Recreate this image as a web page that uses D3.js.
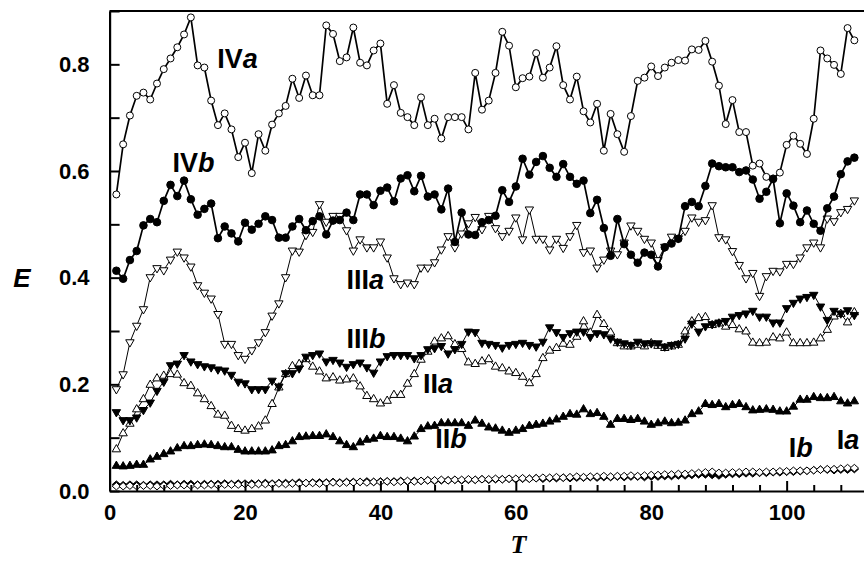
<!DOCTYPE html>
<html><head><meta charset="utf-8">
<script src="https://cdn.jsdelivr.net/npm/d3@7"></script>
<style>body{margin:0;background:#fff}</style>
</head><body>
<svg id="c" width="864" height="562" xmlns="http://www.w3.org/2000/svg"></svg>
<script>
// ---- data ----
const T = d3.range(1, 111);
const IVa = [0.556,0.650,0.704,0.741,0.747,0.734,0.764,0.791,0.811,0.832,
0.856,0.888,0.798,0.794,0.732,0.686,0.708,0.678,0.626,0.653,
0.596,0.669,0.638,0.687,0.708,0.722,0.773,0.737,0.779,0.742,
0.742,0.873,0.857,0.806,0.813,0.869,0.803,0.798,0.826,0.839,
0.726,0.761,0.709,0.701,0.686,0.738,0.686,0.698,0.661,0.701,
0.701,0.701,0.678,0.784,0.715,0.732,0.784,0.861,0.835,0.757,
0.774,0.777,0.821,0.775,0.794,0.834,0.761,0.734,0.777,0.712,
0.691,0.726,0.638,0.707,0.669,0.636,0.703,0.769,0.775,0.796,
0.778,0.794,0.803,0.808,0.807,0.828,0.827,0.844,0.805,0.760,
0.688,0.733,0.673,0.673,0.610,0.614,0.589,0.586,0.597,0.649,
0.666,0.651,0.632,0.698,0.826,0.811,0.799,0.782,0.868,0.845];
const IVb = [0.413,0.398,0.433,0.450,0.498,0.510,0.504,0.544,0.574,0.553,
0.582,0.547,0.518,0.529,0.539,0.474,0.496,0.483,0.468,0.503,
0.490,0.501,0.515,0.508,0.475,0.475,0.496,0.510,0.489,0.506,
0.515,0.481,0.507,0.508,0.522,0.508,0.556,0.556,0.536,0.563,
0.569,0.543,0.586,0.592,0.562,0.591,0.552,0.556,0.528,0.567,
0.467,0.522,0.481,0.480,0.504,0.508,0.516,0.564,0.542,0.571,
0.623,0.593,0.617,0.628,0.606,0.589,0.613,0.589,0.576,0.582,
0.521,0.546,0.493,0.441,0.510,0.463,0.443,0.428,0.447,0.443,
0.421,0.457,0.464,0.473,0.534,0.542,0.534,0.572,0.614,0.609,
0.607,0.607,0.598,0.601,0.584,0.548,0.561,0.585,0.502,0.558,
0.535,0.504,0.526,0.501,0.488,0.530,0.552,0.594,0.618,0.625];
const IIIa = [0.191,0.219,0.279,0.310,0.341,0.401,0.418,0.414,0.434,0.449,
0.438,0.421,0.386,0.372,0.361,0.332,0.276,0.276,0.255,0.248,
0.264,0.279,0.298,0.329,0.352,0.401,0.451,0.449,0.480,0.486,
0.538,0.505,0.516,0.516,0.489,0.451,0.472,0.457,0.457,0.468,
0.438,0.399,0.388,0.391,0.388,0.419,0.419,0.429,0.453,0.478,
0.457,0.483,0.502,0.514,0.491,0.516,0.493,0.478,0.488,0.513,
0.472,0.528,0.473,0.473,0.453,0.473,0.456,0.478,0.499,0.448,
0.451,0.419,0.434,0.451,0.444,0.466,0.498,0.488,0.473,0.466,
0.433,0.458,0.477,0.474,0.488,0.513,0.505,0.508,0.536,0.476,
0.472,0.450,0.424,0.399,0.409,0.366,0.403,0.413,0.412,0.426,
0.426,0.438,0.457,0.466,0.457,0.511,0.506,0.523,0.529,0.545];
const IIIb = [0.148,0.133,0.133,0.138,0.152,0.166,0.188,0.205,0.236,0.239,
0.255,0.243,0.238,0.234,0.232,0.228,0.226,0.218,0.205,0.202,
0.191,0.191,0.191,0.207,0.196,0.221,0.221,0.230,0.252,0.255,
0.258,0.243,0.246,0.241,0.233,0.238,0.241,0.232,0.222,0.243,
0.253,0.255,0.255,0.255,0.249,0.255,0.266,0.268,0.272,0.258,
0.266,0.276,0.299,0.298,0.278,0.276,0.274,0.269,0.274,0.276,
0.278,0.274,0.271,0.280,0.307,0.298,0.289,0.296,0.299,0.299,
0.289,0.296,0.294,0.286,0.280,0.277,0.274,0.280,0.277,0.277,
0.277,0.271,0.274,0.276,0.286,0.314,0.299,0.309,0.313,0.316,
0.319,0.327,0.330,0.333,0.338,0.327,0.327,0.316,0.316,0.343,
0.353,0.361,0.364,0.368,0.346,0.321,0.338,0.333,0.339,0.330];
const IIa = [0.078,0.108,0.126,0.153,0.172,0.199,0.211,0.216,0.219,0.218,
0.202,0.197,0.183,0.172,0.159,0.143,0.141,0.122,0.116,0.113,
0.116,0.121,0.132,0.163,0.194,0.219,0.234,0.238,0.247,0.233,
0.224,0.211,0.213,0.207,0.209,0.211,0.196,0.178,0.172,0.164,
0.169,0.180,0.180,0.201,0.219,0.246,0.261,0.280,0.286,0.290,
0.275,0.266,0.241,0.238,0.243,0.247,0.233,0.230,0.224,0.221,
0.214,0.202,0.219,0.249,0.263,0.268,0.276,0.274,0.289,0.318,
0.297,0.330,0.313,0.297,0.277,0.271,0.271,0.274,0.271,0.277,
0.272,0.268,0.271,0.274,0.299,0.318,0.324,0.326,0.311,0.314,
0.308,0.311,0.303,0.299,0.278,0.277,0.278,0.288,0.286,0.297,
0.277,0.277,0.277,0.278,0.286,0.302,0.327,0.332,0.316,0.335];
const IIb = [0.047,0.046,0.047,0.049,0.049,0.059,0.064,0.069,0.074,0.080,
0.084,0.084,0.086,0.087,0.086,0.084,0.082,0.082,0.077,0.074,
0.074,0.074,0.074,0.076,0.084,0.086,0.093,0.101,0.102,0.103,
0.103,0.106,0.101,0.093,0.086,0.082,0.091,0.096,0.098,0.103,
0.101,0.101,0.098,0.093,0.102,0.116,0.121,0.122,0.127,0.127,
0.127,0.127,0.122,0.132,0.126,0.119,0.117,0.113,0.109,0.113,
0.116,0.122,0.124,0.126,0.130,0.134,0.139,0.144,0.143,0.153,
0.144,0.146,0.139,0.124,0.135,0.135,0.133,0.135,0.130,0.124,
0.127,0.130,0.127,0.128,0.132,0.144,0.149,0.163,0.161,0.163,
0.157,0.161,0.163,0.157,0.151,0.152,0.153,0.152,0.149,0.149,
0.158,0.171,0.171,0.176,0.174,0.174,0.176,0.168,0.164,0.168];
const Ia = [0.009,0.009,0.010,0.009,0.010,0.010,0.009,0.010,0.010,0.011,
0.011,0.010,0.011,0.011,0.012,0.011,0.012,0.012,0.012,0.013,
0.012,0.013,0.013,0.013,0.014,0.013,0.014,0.014,0.015,0.015,
0.014,0.015,0.016,0.015,0.016,0.016,0.017,0.016,0.017,0.017,
0.018,0.017,0.018,0.019,0.018,0.019,0.020,0.020,0.021,0.020,
0.021,0.021,0.022,0.021,0.022,0.022,0.023,0.022,0.023,0.023,
0.024,0.023,0.024,0.025,0.025,0.026,0.025,0.026,0.027,0.026,
0.027,0.027,0.028,0.027,0.028,0.028,0.029,0.028,0.029,0.030,
0.030,0.031,0.031,0.032,0.032,0.033,0.034,0.035,0.036,0.034,
0.034,0.035,0.035,0.036,0.036,0.035,0.036,0.036,0.037,0.037,
0.038,0.038,0.038,0.039,0.040,0.041,0.041,0.042,0.043,0.043];
const Ib = [0.012,0.011,0.012,0.012,0.011,0.012,0.012,0.012,0.013,0.012,
0.013,0.013,0.012,0.013,0.013,0.013,0.014,0.013,0.014,0.014,
0.014,0.014,0.015,0.014,0.015,0.015,0.015,0.016,0.015,0.016,
0.016,0.016,0.017,0.016,0.017,0.017,0.017,0.018,0.017,0.018,
0.018,0.018,0.019,0.018,0.019,0.019,0.020,0.019,0.020,0.020,
0.021,0.020,0.021,0.021,0.022,0.021,0.022,0.022,0.023,0.022,
0.023,0.023,0.024,0.023,0.024,0.024,0.025,0.024,0.025,0.025,
0.026,0.025,0.026,0.026,0.027,0.026,0.027,0.027,0.026,0.027,
0.027,0.028,0.028,0.029,0.029,0.030,0.031,0.031,0.030,0.029,
0.031,0.032,0.032,0.033,0.033,0.034,0.034,0.035,0.035,0.036,
0.036,0.037,0.038,0.039,0.040,0.040,0.039,0.040,0.040,0.041];
const xTicks = [0, 20, 40, 60, 80, 100];
const xMinorTicks = d3.range(0, 112, 4);
const yTicks = [0.0, 0.2, 0.4, 0.6, 0.8];
const yMinorTicks = [0.1, 0.3, 0.5, 0.7, 0.9];
const labelRoman = ["IV", "IV", "III", "III", "II", "II", "I", "I"];
const labelItalic = ["a", "b", "a", "b", "a", "b", "a", "b"];

// ---- layout ----
const W = 864, H = 562;
const svg = d3.select("#c");
const x = d3.scaleLinear().domain([0, 111.5]).range([109.6, 864.5]);
const y = d3.scaleLinear().domain([0, 0.9]).range([491, 11]);
const FONT = "'Liberation Sans', Arial, sans-serif";

// marker shapes
function triPath(s, down) {
  const h = s * Math.sqrt(3) / 2, k = down ? -1 : 1;
  return `M0,${-k*2*h/3}L${s/2},${k*h/3}L${-s/2},${k*h/3}Z`;
}
function diamondPath(w, h) {
  return `M0,${-h/2}L${w/2},0L0,${h/2}L${-w/2},0Z`;
}
const shapes = {
  circle: "M3.5,0A3.5,3.5 0 1,1 -3.5,0A3.5,3.5 0 1,1 3.5,0Z",
  circleF: "M3.8,0A3.8,3.8 0 1,1 -3.8,0A3.8,3.8 0 1,1 3.8,0Z",
  triDown: triPath(8.4, true),
  triUp: triPath(8.4, false),
  diamond: diamondPath(8.4, 7.4)
};

const series = [
  {v: IIIa, shape: "triDown", fill: "#fff", lw: 1},
  {v: IVa, shape: "circle", fill: "#fff", lw: 1.7},
  {v: IVb, shape: "circleF", fill: "#000", lw: 1.7},
  {v: IIa, shape: "triUp", fill: "#fff", lw: 1},
  {v: IIIb, shape: "triDown", fill: "#000", lw: 1},
  {v: IIb, shape: "triUp", fill: "#000", lw: 1},
  {v: Ib, shape: "diamond", fill: "#000", lw: 1},
  {v: Ia, shape: "diamond", fill: "#fff", lw: 1}
];

const line = d3.line().x((d, i) => x(T[i])).y(d => y(d));
const plot = svg.append("g");
series.forEach(s => {
  plot.append("path").attr("d", line(s.v)).attr("fill", "none")
    .attr("stroke", "#000").attr("stroke-width", s.lw);
  plot.selectAll(null).data(s.v).enter().append("path")
    .attr("d", shapes[s.shape])
    .attr("transform", (d, i) => `translate(${x(T[i])},${y(d)})`)
    .attr("fill", s.fill).attr("stroke", "#000").attr("stroke-width", 1);
});

// axes
const xAxis = svg.append("g").attr("transform", `translate(0,${y(0)})`)
  .call(d3.axisBottom(x).tickValues(xTicks).tickFormat(d3.format("d"))
    .tickSizeInner(-10).tickSizeOuter(0).tickPadding(13));
svg.append("g").attr("transform", `translate(0,${y(0)})`)
  .call(d3.axisBottom(x).tickValues(xMinorTicks.filter(t => t % 20 !== 0)).tickFormat("")
    .tickSizeInner(-6).tickSizeOuter(0))
  .call(g => g.select(".domain").remove());
const yAxis = svg.append("g").attr("transform", `translate(${x(0)},0)`)
  .call(d3.axisLeft(y).tickValues(yTicks).tickFormat(d3.format(".1f"))
    .tickSizeInner(-10).tickSizeOuter(0).tickPadding(20));
svg.append("g").attr("transform", `translate(${x(0)},0)`)
  .call(d3.axisLeft(y).tickValues(yMinorTicks).tickFormat("")
    .tickSizeInner(-10).tickSizeOuter(0))
  .call(g => g.select(".domain").remove());

svg.selectAll(".tick line").attr("stroke", "#000").attr("stroke-width", 2);
[xAxis, yAxis].forEach(g => {
  g.select(".domain").attr("stroke", "#000").attr("stroke-width", 2.2);
  g.selectAll(".tick text").attr("font-family", FONT).attr("font-size", 22)
    .attr("font-weight", "bold").attr("fill", "#000");
});
// top frame line
svg.append("line").attr("x1", x(0)).attr("x2", W).attr("y1", y(0.9)).attr("y2", y(0.9))
  .attr("stroke", "#000").attr("stroke-width", 2);

// axis titles
svg.append("text").attr("x", 22).attr("y", y(0.4) + 9).attr("text-anchor", "middle")
  .attr("font-family", FONT).attr("font-size", 26).attr("font-weight", "bold")
  .attr("font-style", "italic").text("E");
svg.append("text").attr("x", x(60.4)).attr("y", 553).attr("text-anchor", "middle")
  .attr("font-family", "'Liberation Serif', 'Times New Roman', serif").attr("font-size", 26)
  .attr("font-weight", "bold").attr("font-style", "italic").text("T");

// series labels (anchored in data coordinates)
const labelAt = [[15.9, 0.793], [9.3, 0.599], [35.0, 0.378], [35.0, 0.268],
                 [46.3, 0.184], [48.1, 0.080], [107.4, 0.078], [100.3, 0.064]];
labelRoman.forEach((r, i) => {
  const p = labelAt[i];
  const t = svg.append("text").attr("x", x(p[0])).attr("y", y(p[1]))
    .attr("font-family", FONT).attr("font-size", 27).attr("font-weight", "bold");
  t.append("tspan").text(r);
  t.append("tspan").attr("font-style", "italic").text(labelItalic[i]);
});
</script>
</body></html>
